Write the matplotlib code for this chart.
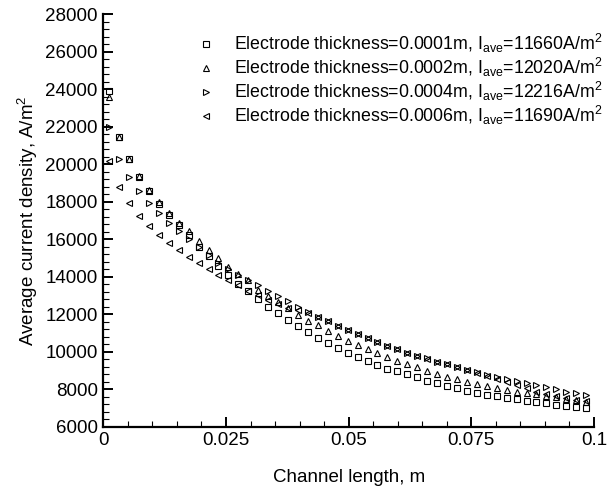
import numpy as np
import matplotlib
matplotlib.use('Agg')
import matplotlib.pyplot as plt
from matplotlib.ticker import MultipleLocator

plt.rcParams['font.family'] = ['Liberation Sans', 'DejaVu Sans']
plt.rcParams['mathtext.fontset'] = 'custom'
plt.rcParams['mathtext.rm'] = 'Liberation Sans'
plt.rcParams['mathtext.it'] = 'Liberation Sans:italic'

# channel positions (m), 49 sample points
x = np.linspace(0.0012, 0.0984, 49)

# average current density (A/m^2)
t0001 = [23911, 21427, 20254, 19327, 18580, 17890, 17270, 16730, 16210, 15595,
         15100, 14569, 14086, 13607, 13210, 12807, 12396, 12044, 11706, 11350,
         11036, 10719, 10445, 10178, 9944, 9699, 9486, 9272, 9100, 8960,
         8800, 8630, 8460, 8310, 8170, 8045, 7920, 7810, 7710, 7620,
         7530, 7450, 7380, 7310, 7250, 7180, 7120, 7060, 7000]
t0002 = [23559, 21450, 20280, 19370, 18640, 17970, 17375, 16880, 16420, 15920,
         15420, 14990, 14500, 14150, 13820, 13280, 12960, 12670, 12320, 11950,
         11640, 11420, 11100, 10834, 10584, 10354, 10126, 9912, 9700, 9516,
         9341, 9162, 8984, 8808, 8661, 8527, 8405, 8276, 8169, 8060,
         7960, 7870, 7800, 7730, 7650, 7570, 7490, 7410, 7330]
t0004 = [21960, 20254, 19294, 18580, 17908, 17375, 16876, 16448, 15990, 15560,
         15140, 14720, 14400, 14080, 13800, 13550, 13230, 12950, 12700, 12400,
         12100, 11860, 11620, 11360, 11150, 10930, 10720, 10530, 10320, 10130,
         9950, 9780, 9640, 9470, 9340, 9200, 9040, 8890, 8750, 8640,
         8530, 8410, 8310, 8220, 8130, 8000, 7870, 7780, 7690]
t0006 = [20180, 18761, 17908, 17231, 16698, 16202, 15776, 15400, 15050, 14710,
         14400, 14086, 13820, 13553, 13260, 13010, 12780, 12560, 12350, 12210,
         12050, 11840, 11610, 11350, 11140, 10920, 10710, 10520, 10310, 10120,
         9940, 9770, 9630, 9460, 9330, 9190, 9020, 8870, 8720, 8560,
         8390, 8220, 8040, 7860, 7720, 7610, 7520, 7430, 7360]

labels = [r'Electrode thickness=0.0001m, I$_{\rm ave}$=11660A/m$^2$',
          r'Electrode thickness=0.0002m, I$_{\rm ave}$=12020A/m$^2$',
          r'Electrode thickness=0.0004m, I$_{\rm ave}$=12216A/m$^2$',
          r'Electrode thickness=0.0006m, I$_{\rm ave}$=11690A/m$^2$']
markers = ['s', '^', '>', '<']

fig = plt.figure(figsize=(6.12, 4.93), dpi=100)
ax = fig.add_axes([0.1688, 0.1345, 0.8018, 0.8371])

for y, m, lab in zip([t0001, t0002, t0004, t0006], markers, labels):
    ax.plot(x, y, linestyle='none', marker=m, markersize=4.4,
            markerfacecolor='none', markeredgecolor='black',
            markeredgewidth=0.8, label=lab, clip_on=False)

ax.set_xlim(0, 0.1)
ax.set_ylim(6000, 28000)
ax.set_xticks([0, 0.025, 0.05, 0.075, 0.1])
ax.set_xticklabels(['0', '0.025', '0.05', '0.075', '0.1'])
ax.set_yticks(np.arange(6000, 28001, 2000))
ax.xaxis.set_minor_locator(MultipleLocator(0.005))
ax.yaxis.set_minor_locator(MultipleLocator(400))

for s in ['top', 'right']:
    ax.spines[s].set_visible(False)
for s in ['left', 'bottom']:
    ax.spines[s].set_linewidth(1.6)

ax.tick_params(which='major', direction='in', length=7, width=1.4,
               labelsize=13.5, pad=4)
ax.tick_params(which='minor', direction='in', length=4, width=0.8)

ax.set_xlabel('Channel length, m', fontsize=13.5, labelpad=14)
ax.set_ylabel('Average current density, A/m$^2$', fontsize=13.5, labelpad=4)

ax.legend(loc='upper left', bbox_to_anchor=(0.322, 0.935),
          bbox_transform=fig.transFigure, frameon=False, fontsize=12.8,
          handletextpad=1.05, labelspacing=0.05, borderaxespad=0,
          borderpad=0, handlelength=1.0, markerscale=1.0)

fig.savefig('out.png', dpi=100)
